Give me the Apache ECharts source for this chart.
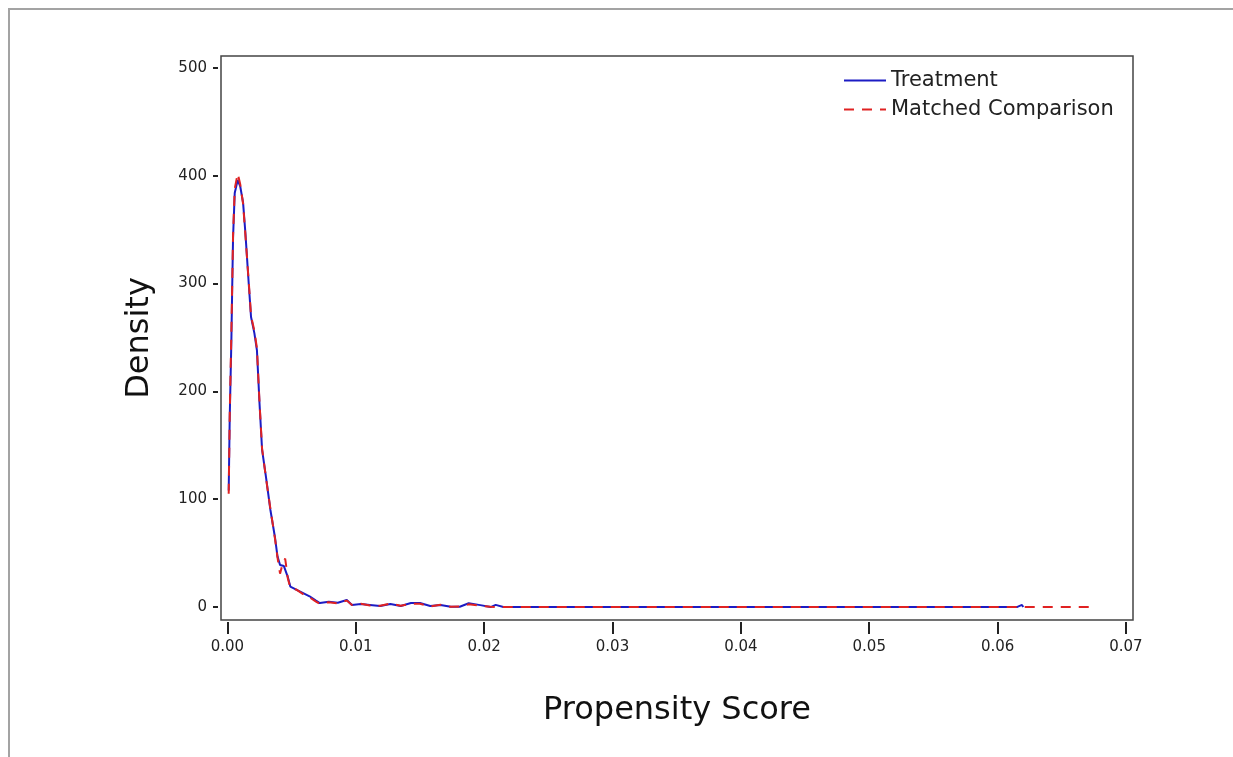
<!DOCTYPE html>
<html>
<head>
<meta charset="utf-8">
<script src="https://cdn.jsdelivr.net/npm/echarts@6/dist/echarts.min.js"></script>
<style>
	html, body { margin: 0; padding: 0; background: #fff; }
	#chart { width: 1233px; height: 757px; }
</style>
</head>
<body>
<div id="chart"></div>
<script>
// 刻度
var xTicks = [0, 0.01, 0.02, 0.03, 0.04, 0.05, 0.06, 0.07];
var yTicks = [0, 100, 200, 300, 400, 500];

// Treatment 曲线 (x, y)
var treatX = [0.0001, 0.00018, 0.00031, 0.00037, 0.00044, 0.00057, 0.0008, 0.001, 0.00122, 0.0014,
	0.00166, 0.00184, 0.0021, 0.0023, 0.0025, 0.0027, 0.003, 0.00335, 0.0037, 0.0039,
	0.0041, 0.0044, 0.0047, 0.0049, 0.0054, 0.0059, 0.0064, 0.0069, 0.0072, 0.0079,
	0.0086, 0.0093, 0.0097, 0.0104, 0.0111, 0.0119, 0.0127, 0.0135, 0.0143, 0.015,
	0.0158, 0.0166, 0.0174, 0.0181, 0.0188, 0.0197, 0.0205, 0.0209, 0.0215, 0.03,
	0.04, 0.05, 0.0615, 0.0619, 0.062];
var treatY = [108, 176, 248, 294, 343, 384, 396, 390, 375, 347,
	300, 269, 254, 238, 189, 146, 121, 90, 65, 47,
	39, 38, 28, 19, 16, 13, 10, 6, 3.7, 5,
	4, 6.5, 2, 2.8, 2, 1, 2.8, 1, 3.7, 3.7,
	1, 2, 0.3, 0.3, 3.5, 1.8, 0, 2, 0, 0,
	0, 0, 0, 2, 0];

// Matched Comparison 曲线 (x, y)
var compX = [0.0001, 0.00018, 0.0003, 0.00037, 0.00044, 0.00057, 0.0008, 0.001, 0.00122, 0.0014,
	0.00166, 0.00184, 0.0021, 0.0023, 0.0025, 0.0027, 0.003, 0.00335, 0.0037, 0.0039,
	0.0041, 0.0043, 0.0045, 0.0047, 0.0049, 0.0054, 0.0059, 0.0064, 0.0069, 0.0072,
	0.0079, 0.0086, 0.0093, 0.0097, 0.0104, 0.0111, 0.0119, 0.0127, 0.0135, 0.0143,
	0.015, 0.0158, 0.0166, 0.0174, 0.0181, 0.0188, 0.0197, 0.0205, 0.0215, 0.03,
	0.04, 0.05, 0.062, 0.0677];
var compY = [105, 178, 250, 296, 345, 388, 402, 392, 374, 345,
	302, 270, 256, 240, 190, 147, 120, 91, 64, 46,
	31, 40, 45, 27, 18, 16, 12, 9, 5, 3,
	4.5, 3.5, 6, 2, 3, 1.5, 1.2, 3.2, 1.2, 3,
	3, 0.5, 2.2, 0.2, 0.6, 2.5, 1.2, 0.2, 0, 0,
	0, 0, 0, 0];

function toPairs(xs, ys) {
	var out = [];
	for (var i = 0; i < xs.length; i++) {
		out.push([xs[i], ys[i]]);
	}
	return out;
}

var fontName = 'DejaVu Sans';

var option = {
	backgroundColor : '#fff',
	animation : false,
	textStyle : {
		fontFamily : fontName
	},
	graphic : [ {
		type : 'rect',
		shape : { x : 9, y : 9, width : 1400, height : 900 },
		style : { fill : 'none', stroke : '#a3a3a3', lineWidth : 2 },
		silent : true
	} ],
	grid : {
		left : 221,
		right : 100,
		top : 56,
		bottom : 137,
		show : true,
		borderColor : '#444',
		borderWidth : 1.5,
		backgroundColor : 'transparent'
	},
	legend : {
		orient : 'vertical',
		left : 843,
		top : 70,
		padding : 0,
		itemGap : 8,
		itemWidth : 42,
		itemHeight : 14,
		// 只显示线, 不显示圆点
		itemStyle : { opacity : 0 },
		textStyle : {
			fontFamily : fontName,
			fontSize : 21,
			color : '#222'
		},
		data : [ 'Treatment', 'Matched Comparison' ]
	},
	xAxis : {
		type : 'value',
		min : -0.0005,
		max : 0.07055,
		offset : 2,
		name : 'Propensity Score',
		nameLocation : 'middle',
		nameGap : 73,
		nameTextStyle : {
			fontFamily : fontName,
			fontSize : 32,
			color : '#111'
		},
		axisLine : { show : true, onZero : false, lineStyle : { color : 'rgba(0,0,0,0)' } },
		splitLine : { show : false },
		axisTick : {
			show : true,
			inside : false,
			length : 12,
			customValues : xTicks,
			lineStyle : { color : '#222', width : 2 }
		},
		axisLabel : {
			customValues : xTicks,
			margin : 18,
			fontSize : 15,
			color : '#222',
			formatter : function(v) { return v.toFixed(2); }
		}
	},
	yAxis : {
		type : 'value',
		min : -12,
		max : 511,
		offset : 3,
		name : 'Density',
		nameLocation : 'middle',
		nameGap : 62,
		nameRotate : 90,
		nameTextStyle : {
			fontFamily : fontName,
			fontSize : 32,
			color : '#111'
		},
		axisLine : { show : true, onZero : false, lineStyle : { color : 'rgba(0,0,0,0)' } },
		splitLine : { show : false },
		axisTick : {
			show : true,
			inside : false,
			length : 5,
			customValues : yTicks,
			lineStyle : { color : '#222', width : 2 }
		},
		axisLabel : {
			customValues : yTicks,
			margin : 11,
			fontSize : 15,
			color : '#222'
		}
	},
	series : [ {
		name : 'Treatment',
		type : 'line',
		showSymbol : false,
		symbol : 'none',
		smooth : false,
		lineStyle : { color : '#1c1cc4', width : 2 },
		itemStyle : { color : '#1c1cc4' },
		data : toPairs(treatX, treatY)
	}, {
		name : 'Matched Comparison',
		type : 'line',
		showSymbol : false,
		symbol : 'none',
		smooth : false,
		lineStyle : { color : '#e02222', width : 2, type : [ 10, 8 ] },
		itemStyle : { color : '#e02222' },
		data : toPairs(compX, compY)
	} ]
};

var myChart = echarts.init(document.getElementById('chart'));
myChart.setOption(option);
</script>
</body>
</html>
